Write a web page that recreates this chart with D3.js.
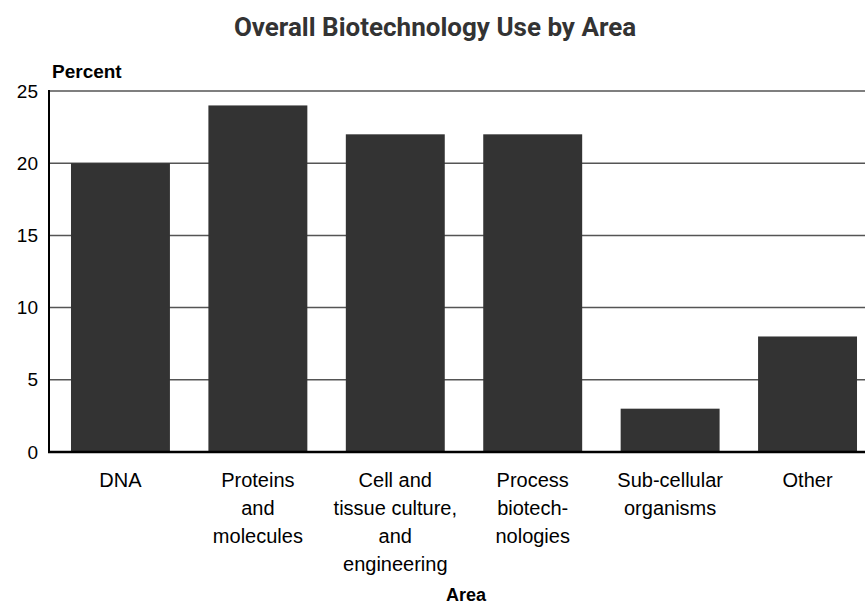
<!DOCTYPE html>
<html>
  <head>
    <title>Overall Biotechnology Use by Area</title>
    <script src="https://d3js.org/d3.v7.min.js"></script>
  </head>
  <body style="margin:0;background:#fff">
    <svg class="chart" width="865" height="605"></svg>
    <script>
// Data
var areas = ["DNA", "Proteins and molecules", "Cell and tissue culture, and engineering",
             "Process biotechnologies", "Sub-cellular organisms", "Other"];
var labelLines = [["DNA"], ["Proteins", "and", "molecules"],
                  ["Cell and", "tissue culture,", "and", "engineering"],
                  ["Process", "biotech-", "nologies"], ["Sub-cellular", "organisms"], ["Other"]];
var percents = [20, 24, 22, 22, 3, 8];
var yTicks = [0, 5, 10, 15, 20, 25];

var svg = d3.select("svg"),
    plotLeft = 49, plotRight = 879, plotTop = 91, plotBottom = 452;

var x = d3.scaleBand()
    .domain(areas)
    .range([plotLeft, plotRight])
    .paddingInner(0.28)
    .paddingOuter(0.16);

var y = d3.scaleLinear()
    .domain([0, 25])
    .range([plotBottom, plotTop]);

// gridlines
svg.append("g")
    .selectAll("line")
    .data(yTicks.slice(1))
    .enter().append("line")
      .attr("x1", plotLeft).attr("x2", plotRight)
      .attr("y1", d => y(d)).attr("y2", d => y(d))
      .attr("stroke", "#555")
      .attr("stroke-width", 1.5);

// bars
svg.append("g")
    .selectAll("rect")
    .data(percents)
    .enter().append("rect")
      .attr("x", (d, i) => x(areas[i]))
      .attr("y", d => y(d))
      .attr("width", x.bandwidth())
      .attr("height", d => plotBottom - y(d))
      .attr("fill", "#333333");

// y axis
var yAxis = svg.append("g")
    .attr("transform", "translate(" + plotLeft + ",0)")
    .call(d3.axisLeft(y).tickValues(yTicks).tickSize(0).tickPadding(11));
yAxis.select(".domain").remove();
yAxis.selectAll("text")
    .attr("font-family", "Liberation Sans, Arial, sans-serif")
    .attr("font-size", 19)
    .attr("fill", "#000");

// axis lines
svg.append("line")
    .attr("x1", plotLeft).attr("x2", plotLeft).attr("y1", plotTop - 1).attr("y2", plotBottom + 1)
    .attr("stroke", "#000").attr("stroke-width", 2);
svg.append("line")
    .attr("x1", plotLeft - 1).attr("x2", plotRight).attr("y1", plotBottom).attr("y2", plotBottom)
    .attr("stroke", "#000").attr("stroke-width", 2.5);

// category labels
var cat = svg.append("g")
    .attr("font-family", "Liberation Sans, Arial, sans-serif")
    .attr("font-size", 20)
    .attr("text-anchor", "middle");
cat.selectAll("text")
    .data(areas)
    .enter().append("text")
      .attr("y", 487)
      .each(function (d, i) {
          d3.select(this).selectAll("tspan")
            .data(labelLines[i])
            .enter().append("tspan")
              .attr("x", x(d) + x.bandwidth() / 2)
              .attr("dy", (t, j) => j === 0 ? 0 : 28)
              .text(t => t);
      });

// title and axis titles
svg.append("text")
    .attr("x", 435).attr("y", 36)
    .attr("text-anchor", "middle")
    .attr("font-family", "Roboto, Liberation Sans, Arial, sans-serif")
    .attr("font-weight", "bold")
    .attr("font-size", 26)
    .attr("fill", "#333")
    .text("Overall Biotechnology Use by Area");

svg.append("text")
    .attr("x", 52).attr("y", 78)
    .attr("font-family", "Liberation Sans, Arial, sans-serif")
    .attr("font-weight", "bold")
    .attr("font-size", 19)
    .text("Percent");

svg.append("text")
    .attr("x", (plotLeft + plotRight) / 2 + 2).attr("y", 601)
    .attr("text-anchor", "middle")
    .attr("font-family", "Liberation Sans, Arial, sans-serif")
    .attr("font-weight", "bold")
    .attr("font-size", 18)
    .text("Area");
</script>
  </body>
</html>
